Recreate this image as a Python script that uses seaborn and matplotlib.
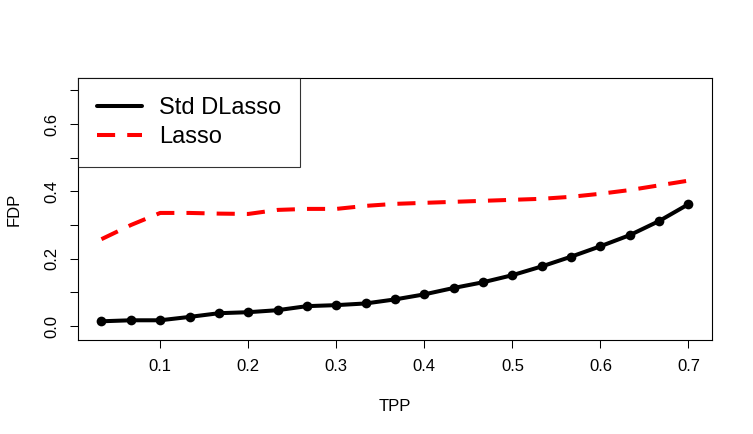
import numpy as np
import pandas as pd
import matplotlib
matplotlib.use("Agg")
import matplotlib.pyplot as plt
import seaborn as sns

# TPP grid (1/30 steps) and FDP values
tpp = [0.0333, 0.0667, 0.1, 0.1333, 0.1667, 0.2, 0.2333, 0.2667, 0.3, 0.3333,
       0.3667, 0.4, 0.4333, 0.4667, 0.5, 0.5333, 0.5667, 0.6, 0.6333, 0.6667, 0.7]
fdp_std_dlasso = [0.014, 0.017, 0.017, 0.027, 0.038, 0.041, 0.047, 0.059, 0.062, 0.067,
                  0.079, 0.094, 0.113, 0.130, 0.151, 0.177, 0.206, 0.237, 0.270, 0.312, 0.362]
fdp_lasso = [0.258, 0.300, 0.336, 0.336, 0.334, 0.333, 0.345, 0.348, 0.348, 0.357,
             0.363, 0.366, 0.369, 0.372, 0.375, 0.378, 0.384, 0.393, 0.404, 0.418, 0.432]
legend_labels = ["Std DLasso", "Lasso"]

df = pd.DataFrame({"TPP": tpp, "std": fdp_std_dlasso, "lasso": fdp_lasso})

sns.set_style("white")
plt.rcParams["font.family"] = ["Liberation Sans", "DejaVu Sans"]
plt.rcParams["text.color"] = "black"
plt.rcParams["axes.labelcolor"] = "black"

fig = plt.figure(figsize=(7.53, 4.34), dpi=100)
ax = fig.add_axes([78 / 753, 94 / 434, 634 / 753, 262 / 434])

sns.lineplot(data=df, x="TPP", y="std", ax=ax, color="black", linewidth=2.9,
             marker="o", markersize=7, markeredgewidth=0, label=legend_labels[0])
sns.lineplot(data=df, x="TPP", y="lasso", ax=ax, color="#ff0000", linewidth=2.9,
             dashes=False, label=legend_labels[1])
ax.lines[1].set_dashes((4.5, 3))
ax.lines[1].set_dash_capstyle("butt")

ax.set_xlim(0.00667, 0.7267)
ax.set_ylim(-0.0416, 0.737)
ax.set_xticks([0.1, 0.2, 0.3, 0.4, 0.5, 0.6, 0.7])
ax.set_xticklabels(["0.1", "0.2", "0.3", "0.4", "0.5", "0.6", "0.7"])
yt = [0.0, 0.1, 0.2, 0.3, 0.4, 0.5, 0.6, 0.7]
ax.set_yticks(yt)
ax.set_yticklabels(["0.0", "", "0.2", "", "0.4", "", "0.6", ""], rotation=90, va="center")

ax.tick_params(axis="both", direction="out", length=5.5, width=0.75, color="black",
               labelsize=12, labelcolor="black", bottom=True, left=True)
ax.tick_params(axis="x", pad=8)
ax.tick_params(axis="y", pad=8)
for s in ax.spines.values():
    s.set_color("black")
    s.set_linewidth(0.8)

ax.set_xlabel("TPP", fontsize=12, labelpad=18, color="black")
ax.set_ylabel("FDP", fontsize=12, labelpad=16, color="black")

leg = ax.legend(loc="upper left", bbox_to_anchor=(0, 1), borderaxespad=0,
                fontsize=17, frameon=True, fancybox=False, handlelength=1.9,
                handletextpad=0.75, borderpad=0.8, labelspacing=0.3)
leg.get_frame().set_edgecolor("black")
leg.get_frame().set_linewidth(0.8)
for h in leg.get_lines():
    h.set_marker("")

fig.savefig("out.png", dpi=100)
